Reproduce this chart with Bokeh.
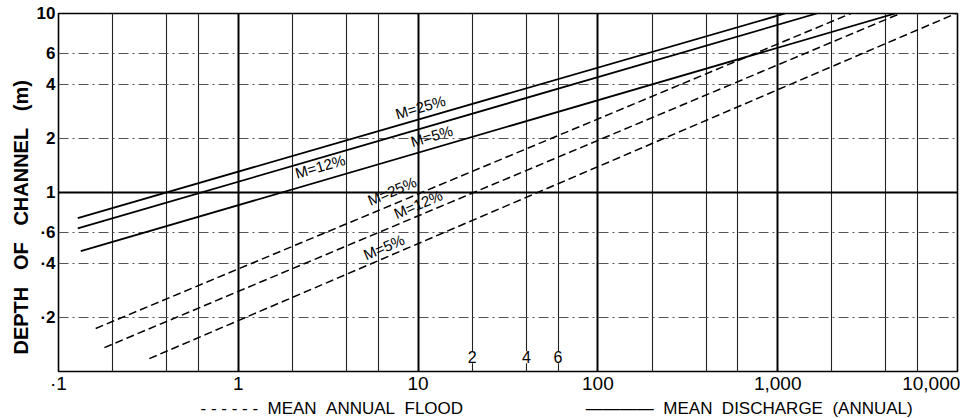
from bokeh.plotting import figure
from bokeh.models import Range1d, FixedTicker, Label, Grid, Title
from bokeh.embed import file_html
from bokeh.resources import INLINE

# ---- data (log-log straight lines, end points) ----
# Mean annual flood (dashed)
flood_m25_x = [0.161, 2550]
flood_m25_y = [0.174, 10]
flood_m12_x = [0.180, 4800]
flood_m12_y = [0.136, 10]
flood_m5_x = [0.32, 9800]
flood_m5_y = [0.118, 10]
# Mean discharge (annual) (solid)
disch_m25_x = [0.128, 1100]
disch_m25_y = [0.72, 10]
disch_m12_x = [0.128, 1650]
disch_m12_y = [0.63, 10]
disch_m5_x = [0.133, 4500]
disch_m5_y = [0.47, 10]

x_ticks = [0.1, 1, 10, 100, 1000, 10000]
x_tick_labels = ["·1", "1", "10", "100", "1,000", "10,000"]
y_ticks = [0.2, 0.4, 0.6, 1, 2, 4, 6, 10]
y_tick_labels = ["·2", "·4", "·6", "1", "2", "4", "6", "10"]
x_grid = [0.2, 0.4, 0.6, 2, 4, 6, 20, 40, 60, 200, 400, 600, 2000, 4000, 6000]
x_grid_major = [1, 10, 100, 1000]
y_grid = [0.2, 0.4, 0.6, 2, 4, 6]
y_grid_major = [1]

FONT = "Liberation Sans"
NB = "\u00a0"

p = figure(width=974, height=418, x_axis_type="log", y_axis_type="log",
           x_range=Range1d(0.1, 10000), y_range=Range1d(0.1, 10),
           output_backend="svg", toolbar_location=None,
           min_border_left=58, min_border_right=17, min_border_top=13, min_border_bottom=44)
p.background_fill_color = "white"
p.border_fill_color = "white"
p.outline_line_color = "black"
p.outline_line_width = 1.6

# grids
p.xgrid.ticker = FixedTicker(ticks=x_grid)
p.xgrid.grid_line_color = "#222222"
p.xgrid.grid_line_width = 1.1
p.ygrid.ticker = FixedTicker(ticks=y_grid)
p.ygrid.grid_line_color = "#555555"
p.ygrid.grid_line_width = 1
p.ygrid.grid_line_dash = "10 4 2 4"
p.add_layout(Grid(dimension=0, ticker=FixedTicker(ticks=x_grid_major),
                  grid_line_color="black", grid_line_width=2))
p.add_layout(Grid(dimension=1, ticker=FixedTicker(ticks=y_grid_major),
                  grid_line_color="black", grid_line_width=2))

# axes
# the reference prints its last label ("10,000") left of the corner so it stays on the page
x_label_pos = x_ticks[:-1] + [x_ticks[-1] / 1.4]
for ax in p.xaxis:
    ax.ticker = FixedTicker(ticks=x_label_pos)
    ax.major_label_overrides = {t: l for t, l in zip(x_label_pos, x_tick_labels)}
    ax.axis_line_color = None
    ax.major_tick_line_color = None
    ax.minor_tick_line_color = None
    ax.major_tick_out = 0
    ax.major_label_standoff = 1
    ax.major_label_text_font = FONT
    ax.major_label_text_font_size = "19px"
    ax.major_label_text_color = "black"
for ax in p.yaxis:
    ax.ticker = FixedTicker(ticks=y_ticks)
    ax.major_label_overrides = {t: l for t, l in zip(y_ticks, y_tick_labels)}
    ax.axis_line_color = None
    ax.major_tick_line_color = None
    ax.minor_tick_line_color = None
    ax.major_tick_out = 0
    ax.major_label_standoff = 3
    ax.major_label_text_font = FONT
    ax.major_label_text_font_style = "bold"
    ax.major_label_text_font_size = "17px"
    ax.major_label_text_color = "black"

# lines
for xs, ys in [(disch_m25_x, disch_m25_y), (disch_m12_x, disch_m12_y), (disch_m5_x, disch_m5_y)]:
    p.line(xs, ys, line_color="black", line_width=1.8)
for xs, ys in [(flood_m25_x, flood_m25_y), (flood_m12_x, flood_m12_y), (flood_m5_x, flood_m5_y)]:
    p.line(xs, ys, line_color="black", line_width=1.5, line_dash="8 4")

# line labels (text, x, y, angle)
line_labels = [
    ("M=25%", 10.3, 3.0, 16),
    ("M=12%", 2.85, 1.40, 16),
    ("M=5%", 11.9, 2.07, 16),
    ("M=25%", 7.16, 1.02, 23),
    ("M=12%", 10.0, 0.86, 23),
    ("M=5%", 6.46, 0.495, 23),
]
for t, x, y, a in line_labels:
    p.add_layout(Label(x=x, y=y, text=t, angle=a, angle_units="deg",
                       text_align="center", text_baseline="middle",
                       text_font=FONT, text_font_size="15px", text_color="black"))

# small in-plot digits
for t, x in [("2", 20), ("4", 40), ("6", 60)]:
    p.add_layout(Label(x=x, y=0.12, text=t, text_align="center", text_baseline="middle",
                       text_font=FONT, text_font_size="16px", text_color="black",
                       background_fill_color="white"))

# y axis title (starts a little above the frame bottom, as in the reference)
ytitle = Title(text=f"DEPTH{NB*3}OF{NB*3}CHANNEL{NB*3}(m)", align="left", offset=17,
               standoff=4, text_font=FONT, text_font_style="bold", text_font_size="20px",
               text_color="black")
p.add_layout(ytitle, "left")

# bottom legend as a line of text
legend_text = ("-" + NB) * 6 + NB + f"MEAN{NB*2}ANNUAL{NB*2}FLOOD" + NB * 26 + "————" + NB * 2 + \
              f"MEAN{NB*2}DISCHARGE{NB*2}(ANNUAL)"
ltitle = Title(text=legend_text, align="left", offset=142, standoff=1,
               text_font=FONT, text_font_style="normal", text_font_size="17px", text_color="black")
p.add_layout(ltitle, "below")

open("out.html", "w").write(file_html(p, INLINE))
